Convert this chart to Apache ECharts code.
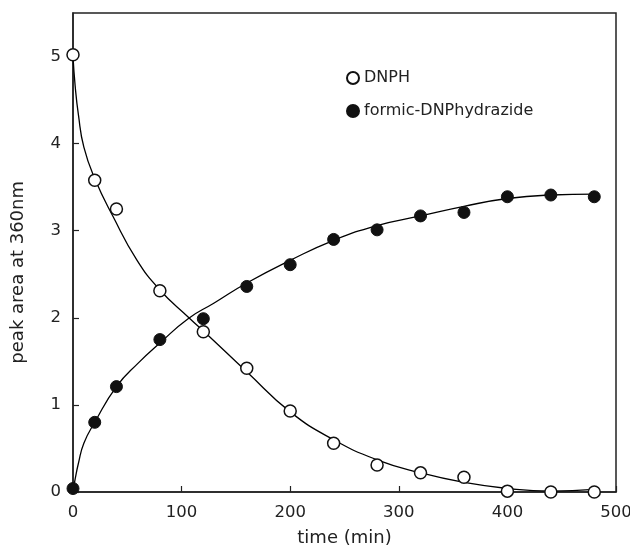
<!DOCTYPE html>
<html>
<head>
<meta charset="utf-8">
<script src="https://cdn.jsdelivr.net/npm/echarts@6/dist/echarts.min.js"></script>
<style>
html,body{margin:0;padding:0;background:#fff;}
#chart{width:630px;height:552px;}
</style>
</head>
<body>
<div id="chart"></div>
<script>
// measured points
var timeMin = [0, 20, 40, 80, 120, 160, 200, 240, 280, 320, 360, 400, 440, 480];
var dnph = [5.02, 3.58, 3.25, 2.31, 1.84, 1.42, 0.93, 0.56, 0.31, 0.22, 0.17, 0.01, 0.0, 0.0];
var formic = [0.04, 0.80, 1.21, 1.75, 1.99, 2.36, 2.61, 2.90, 3.01, 3.17, 3.21, 3.39, 3.41, 3.39];

// fitted curves
var dnphFitTime = [0, 2, 5, 10, 20, 37, 59, 80, 106, 126, 160, 200, 240, 280, 320, 360, 400, 440, 480];
var dnphFit = [5.0, 4.66, 4.33, 3.96, 3.60, 3.16, 2.66, 2.32, 2.01, 1.78, 1.38, 0.92, 0.60, 0.37, 0.22, 0.11, 0.04, 0.01, 0.03];
var formicFitTime = [0, 2, 5, 10, 20, 40, 60, 80, 106, 130, 160, 200, 240, 280, 320, 360, 400, 440, 480];
var formicFit = [0.0, 0.15, 0.33, 0.56, 0.80, 1.21, 1.48, 1.71, 1.99, 2.17, 2.40, 2.66, 2.89, 3.06, 3.17, 3.28, 3.37, 3.41, 3.42];

var xTicks = [0, 100, 200, 300, 400, 500];
var yTicks = [0, 1, 2, 3, 4, 5];

function pairs(xs, ys) { return xs.map(function (x, i) { return [x, ys[i]]; }); }

var chart = echarts.init(document.getElementById('chart'), null, {renderer: 'canvas'});
var font = 'DejaVu Sans, sans-serif';
chart.setOption({
  animation: false,
  backgroundColor: '#fff',
  grid: {left: 73, right: 14, top: 13, bottom: 60, show: true, borderColor: '#222', borderWidth: 1.5,
    containLabel: false, outerBoundsMode: 'none'},
  legend: {
    data: ['DNPH', 'formic-DNPhydrazide'],
    orient: 'vertical', left: 341, top: 65,
    itemWidth: 12, itemHeight: 12, itemGap: 17,
    textStyle: {fontFamily: font, fontSize: 16, color: '#222'},
    icon: 'circle'
  },
  graphic: [{
    type: 'text', left: 9, top: 181,
    style: {text: 'peak area at 360nm', fontFamily: font, fontSize: 18, fill: '#222'},
    rotation: Math.PI / 2
  }],
  xAxis: {
    type: 'value', min: 0, max: 500, interval: 100,
    name: 'time (min)', nameLocation: 'middle', nameGap: 37,
    nameTextStyle: {fontFamily: font, fontSize: 18, color: '#222'},
    axisLine: {show: true, lineStyle: {color: '#222', width: 1.5}},
    axisTick: {show: true, inside: true, length: 6, lineStyle: {color: '#222', width: 1.2}},
    axisLabel: {fontFamily: font, fontSize: 16.5, color: '#222', margin: 12,
      formatter: function (v) { return xTicks.indexOf(v) >= 0 ? String(v) : ''; }},
    splitLine: {show: false}
  },
  yAxis: {
    type: 'value', min: 0, max: 5.5, interval: 1,
    axisLine: {show: true, lineStyle: {color: '#222', width: 1.5}},
    axisTick: {show: true, inside: true, length: 6, lineStyle: {color: '#222', width: 1.2}},
    axisLabel: {fontFamily: font, fontSize: 16.5, color: '#222', margin: 12, showMaxLabel: false,
      formatter: function (v) { return yTicks.indexOf(v) >= 0 ? String(v) : ''; }},
    splitLine: {show: false}
  },
  series: [
    {name: 'dnphFit', type: 'line', data: pairs(dnphFitTime, dnphFit), smooth: 0.5, showSymbol: false,
      lineStyle: {color: '#000', width: 1.3}, z: 2, silent: true},
    {name: 'formicFit', type: 'line', data: pairs(formicFitTime, formicFit), smooth: 0.5, showSymbol: false,
      lineStyle: {color: '#000', width: 1.3}, z: 2, silent: true},
    {name: 'DNPH', type: 'scatter', data: pairs(timeMin, dnph), symbol: 'circle', symbolSize: 12,
      itemStyle: {color: '#fff', borderColor: '#111', borderWidth: 1.5, opacity: 1}, z: 3},
    {name: 'formic-DNPhydrazide', type: 'scatter', data: pairs(timeMin, formic), symbol: 'circle', symbolSize: 12,
      itemStyle: {color: '#111', borderColor: '#111', borderWidth: 1, opacity: 1}, z: 4}
  ]
});
</script>
</body>
</html>
